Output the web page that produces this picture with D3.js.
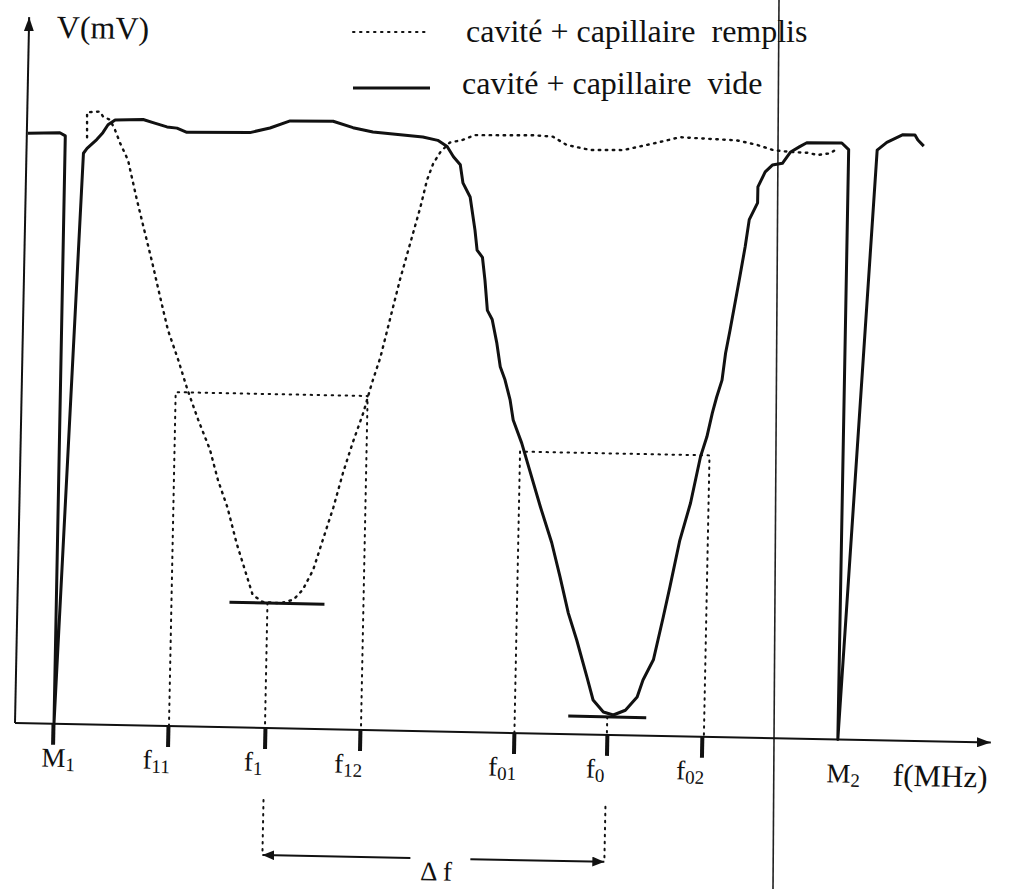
<!DOCTYPE html>
<meta charset="utf-8">
<style>
body { margin: 0; background: #fff; }
svg text { font-family: "Liberation Serif", "DejaVu Serif", "Times New Roman", serif; fill: #111; }
.curve-vide { fill: none; stroke: #111; stroke-width: 3px; stroke-linejoin: round; }
.curve-remplis { fill: none; stroke: #111; stroke-width: 2.4px; stroke-dasharray: 1.5,5.5; stroke-linecap: round; }
.guide { fill: none; stroke: #111; stroke-width: 2px; stroke-dasharray: 1.5,5.5; stroke-linecap: round; }
.marker-line { stroke: #111; stroke-width: 3px; }
.axis-line { stroke: #111; stroke-width: 2px; }
.tick line { stroke: #111; stroke-width: 4px; }
.axis .domain { display: none; }
.legend-text { font-size: 32px; white-space: pre; }
</style>
<svg width="1010" height="889"></svg>
<script src="https://cdn.jsdelivr.net/npm/d3@7"></script>
<script>
// cavité + capillaire vide (trait plein)
var fVide = [0.1, 3.3, 3.85, 3.9, 5.7, 6.05, 7.0, 7.6, 8.1, 8.8, 11.6, 12.6, 14.0, 15.0, 16.0,
  22.3, 24.3, 26.3, 30.6, 32.6, 34.6, 39.6, 41.1, 42.05, 42.7, 43.4, 43.7, 44.45, 45.0, 45.25,
  45.8, 46.1, 46.4, 46.9, 47.4, 47.8, 48.3, 48.85, 49.2, 50.1, 52.1, 53.3, 54.2, 55.1, 56.0,
  57.1, 57.75, 58.8, 59.8, 61.0, 62.15, 62.7, 63.7, 64.6, 65.2, 66.1, 67.1, 68.0, 68.6, 69.1,
  69.5, 70.0, 70.3, 70.7, 71.3, 71.6, 72.05, 72.4, 73.2, 73.2, 73.9, 74.6, 75.6, 76.4, 77.3,
  78.0, 81.5, 82.2, 82.3, 85.05, 86.0, 87.6, 88.8, 89.1, 89.7];
var vVide = [59.0, 59.1, 58.8, 0, 57.1, 57.6, 58.5, 59.2, 60.0, 60.5, 60.6, 60.3, 59.9, 59.8, 59.4,
  59.5, 60.0, 60.75, 60.8, 60.2, 59.8, 59.4, 59.1, 58.5, 57.5, 56.7, 54.9, 53.5, 50.2, 48.2,
  47.5, 45.2, 42.2, 41.3, 39.0, 36.6, 35.3, 33.3, 31.3, 29.0, 22.65, 19.1, 15.7, 12.1, 9.4,
  5.7, 3.46, 2.28, 2.0, 2.5, 3.84, 5.56, 7.6, 11.9, 14.9, 19.6, 23.35, 28.0, 30.0, 32.4,
  34.0, 35.7, 38.4, 40.7, 44.4, 46.25, 49.1, 51.8, 53.5, 55.1, 56.6, 57.3, 57.5, 58.65, 59.2,
  59.6, 59.65, 59.0, 0, 59.0, 59.8, 60.6, 60.6, 60.1, 59.5];

// cavité + capillaire remplis (pointillés)
var fRemplis = [6.03, 5.98, 7.28, 7.59, 8.29, 8.81, 9.34, 10.17, 11.15, 12.0, 12.8, 13.65, 14.5,
  15.6, 16.6, 17.7, 18.95, 19.8, 20.8, 21.8, 22.9, 23.5, 24.5, 26.3, 27.6, 28.5, 29.5, 30.4,
  31.4, 32.3, 33.2, 34.2, 35.0, 35.8, 37.6, 39.5, 40.1, 40.7, 41.4, 42.3, 43.6, 44.8, 50.6,
  52.6, 54.0, 56.35, 59.65, 63.0, 65.3, 71.0, 73.0, 74.65, 76.4, 78.1, 79.1, 80.4, 81.05];
var vRemplis = [58.7, 61.2, 61.3, 60.8, 60.5, 59.5, 58.2, 56.5, 52.5, 49.3, 46.3, 42.9, 39.6,
  36.6, 33.6, 30.7, 27.7, 24.7, 22.0, 18.4, 15.1, 13.3, 12.6, 12.5, 12.9, 13.9, 15.9, 18.9,
  22.2, 25.7, 28.7, 31.7, 34.7, 37.3, 45.1, 52.4, 55.1, 56.8, 57.95, 58.9, 59.2, 59.7, 59.8,
  59.7, 58.9, 58.45, 58.5, 59.3, 59.9, 59.7, 59.3, 58.8, 58.65, 58.6, 58.4, 58.6, 59.1];

// frequency marks on the f axis
var tickPos = [3.8, 15.3, 25.0, 34.5, 49.9, 59.2, 68.7, 82.3];
var tickMain = ["M", "f", "f", "f", "f", "f", "f", "M"];
var tickSub = ["1", "11", "1", "12", "01", "0", "02", "2"];

// half-height levels and minima
var halfLevels = [{f1: 15.4, f2: 34.6, v: 33.4}, {f1: 49.95, f2: 68.9, v: 28.15}];
var minima = [{f: 25.0, v: 12.5, from: 21.2, to: 30.7}, {f: 59.2, v: 1.8, from: 55.3, to: 63.1}];

var svg = d3.select("svg"),
    origin = [15, 723],
    tilt = 1.15; // the scanned figure is slightly rotated

var x = d3.scaleLinear().domain([0, 100]).range([0, 1000]);
var y = d3.scaleLinear().domain([0, 100]).range([0, -1000]);

var defs = svg.append("defs");
function arrow(id, len, half) {
  defs.append("marker")
      .attr("id", id)
      .attr("markerUnits", "userSpaceOnUse")
      .attr("viewBox", "0 " + (-half) + " " + len + " " + (2 * half))
      .attr("refX", len).attr("refY", 0)
      .attr("markerWidth", len).attr("markerHeight", 2 * half)
      .attr("orient", "auto-start-reverse")
    .append("path")
      .attr("d", "M0," + (-half) + "L" + len + ",0L0," + half + "Z")
      .attr("fill", "#111");
}
arrow("arr-axis", 14, 5);
arrow("arr-df", 12, 5);

// scan edge line
svg.append("line")
    .attr("x1", 779).attr("y1", 0)
    .attr("x2", 773).attr("y2", 889)
    .attr("stroke", "#222")
    .attr("stroke-width", 1.6);

var g = svg.append("g")
    .attr("transform", "translate(" + origin + ") rotate(" + tilt + ")");

// axes
g.append("line").attr("class", "axis-line")
    .attr("x1", x(0)).attr("y1", y(0))
    .attr("x2", x(97.6)).attr("y2", y(0))
    .attr("marker-end", "url(#arr-axis)");
g.append("line").attr("class", "axis-line")
    .attr("x1", x(0)).attr("y1", y(0))
    .attr("x2", x(0)).attr("y2", y(70.6))
    .attr("marker-end", "url(#arr-axis)");

g.append("g")
    .attr("class", "axis")
    .call(d3.axisBottom(x)
      .tickValues(tickPos.filter(function(d, i) { return tickMain[i] === "f" || i === 0; }))
      .tickSizeInner(21)
      .tickSizeOuter(0)
      .tickFormat(""));

var labels = g.append("g").selectAll("text")
    .data(tickPos)
    .enter()
  .append("text")
    .attr("x", function(d, i) { return x(d) + (tickMain[i] === "M" ? 6 : -11); })
    .attr("y", y(-4.3))
    .attr("text-anchor", "middle")
    .style("font-size", "27px");
labels.append("tspan").text(function(d, i) { return tickMain[i]; });
labels.append("tspan")
    .attr("dy", 4)
    .style("font-size", "19px")
    .text(function(d, i) { return tickSub[i]; });

g.append("text")
    .attr("x", x(92.6)).attr("y", y(-4.5))
    .attr("text-anchor", "middle")
    .style("font-size", "31px")
    .text("f(MHz)");

g.append("text")
    .attr("x", x(7.4)).attr("y", y(68.6))
    .attr("text-anchor", "middle")
    .style("font-size", "32px")
    .text("V(mV)");

// guide lines at half height
halfLevels.forEach(function(h) {
  g.append("path").attr("class", "guide")
      .attr("d", d3.line()([[x(h.f1), y(0)], [x(h.f1), y(h.v)], [x(h.f2), y(h.v)], [x(h.f2), y(0)]]));
});

// minima: horizontal mark + vertical dotted down to axis
minima.forEach(function(m) {
  g.append("line").attr("class", "marker-line")
      .attr("x1", x(m.from)).attr("y1", y(m.v))
      .attr("x2", x(m.to)).attr("y2", y(m.v));
  g.append("line").attr("class", "guide")
      .attr("x1", x(m.f)).attr("y1", y(m.v))
      .attr("x2", x(m.f)).attr("y2", y(0));
  g.append("line").attr("class", "guide")
      .attr("x1", x(m.f)).attr("y1", y(-7.2))
      .attr("x2", x(m.f)).attr("y2", y(-12.7));
});

// delta f arrow
g.append("line")
    .attr("x1", x(39.8)).attr("y1", y(-12.7))
    .attr("x2", x(minima[0].f)).attr("y2", y(-12.7))
    .attr("stroke", "#111").attr("stroke-width", 2)
    .attr("marker-end", "url(#arr-df)");
g.append("line")
    .attr("x1", x(45.8)).attr("y1", y(-12.7))
    .attr("x2", x(minima[1].f)).attr("y2", y(-12.7))
    .attr("stroke", "#111").attr("stroke-width", 2)
    .attr("marker-end", "url(#arr-df)");
g.append("text")
    .attr("x", x(42.4)).attr("y", y(-14.9))
    .attr("text-anchor", "middle")
    .style("font-size", "27px")
    .text("\u0394 f");

// curves
var line = d3.line()
    .x(function(d) { return x(d[0]); })
    .y(function(d) { return y(d[1]); });

g.append("path").attr("class", "curve-remplis")
    .attr("d", line(d3.zip(fRemplis, vRemplis)));
g.append("path").attr("class", "curve-vide")
    .attr("d", line(d3.zip(fVide, vVide)));

// legend
var legend = svg.append("g").attr("class", "legend");
legend.append("line")
    .attr("class", "curve-remplis")
    .attr("x1", 353).attr("y1", 32).attr("x2", 425).attr("y2", 32)
    .style("stroke-width", "2px");
legend.append("text").attr("class", "legend-text")
    .attr("x", 466).attr("y", 42)
    .text("cavité + capillaire  remplis");
legend.append("line")
    .attr("class", "curve-vide")
    .attr("x1", 353).attr("y1", 88).attr("x2", 430).attr("y2", 88);
legend.append("text").attr("class", "legend-text")
    .attr("x", 462).attr("y", 94)
    .text("cavité + capillaire  vide");
</script>
